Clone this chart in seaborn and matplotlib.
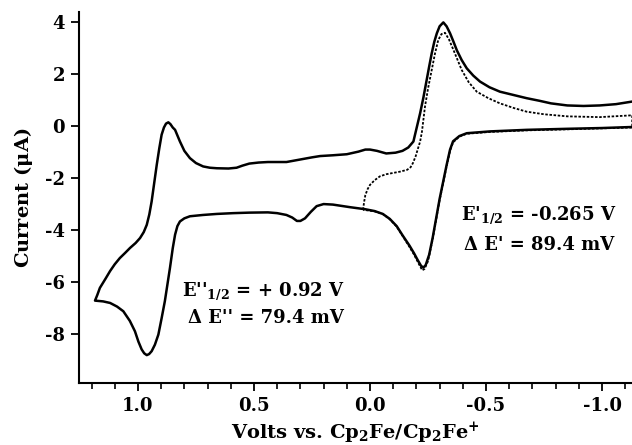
"""
Cyclic voltammogram: current vs. potential referenced to Cp2Fe/Cp2Fe+.
Solid trace = full scan, dotted trace = scan started near 0.0 V.
"""

import numpy as np
import pandas as pd
import matplotlib
matplotlib.use("Agg")
import matplotlib.pyplot as plt
import seaborn as sns
from matplotlib.ticker import MultipleLocator, FixedLocator

sns.set_style("ticks")
plt.rcParams["font.family"] = ["DejaVu Serif"]
plt.rcParams["font.weight"] = "bold"
plt.rcParams["mathtext.fontset"] = "dejavuserif"
plt.rcParams["axes.unicode_minus"] = False
plt.rcParams["text.color"] = "black"
plt.rcParams["axes.labelcolor"] = "black"
plt.rcParams["xtick.color"] = "black"
plt.rcParams["ytick.color"] = "black"

# solid trace, lower branch (from right edge back to the left vertex)
solid_low_v = [-1.13, -1.0, -0.85, -0.675, -0.517, -0.46, -0.417, -0.385, -0.358, -0.345,
               -0.33, -0.315, -0.30, -0.285, -0.27, -0.255, -0.24, -0.23, -0.22, -0.205,
               -0.19, -0.17, -0.14, -0.115, -0.085, -0.055, -0.02, 0.02, 0.086, 0.16,
               0.20, 0.23, 0.255, 0.28, 0.30, 0.315, 0.335, 0.36, 0.40, 0.44,
               0.52, 0.59, 0.66, 0.72, 0.776, 0.80, 0.819, 0.83, 0.84, 0.85,
               0.862, 0.873, 0.884, 0.898, 0.912, 0.927, 0.941, 0.952, 0.962, 0.973,
               0.984, 0.998, 1.013, 1.035, 1.063, 1.09, 1.12, 1.15, 1.185]
solid_low_i = [-0.03, -0.07, -0.1, -0.14, -0.2, -0.24, -0.27, -0.38, -0.58, -0.9,
               -1.5, -2.15, -2.8, -3.55, -4.3, -4.95, -5.35, -5.45, -5.38, -5.15,
               -4.9, -4.6, -4.2, -3.85, -3.57, -3.38, -3.27, -3.2, -3.12, -3.02,
               -3.0, -3.08, -3.3, -3.55, -3.65, -3.65, -3.52, -3.42, -3.35, -3.32,
               -3.33, -3.35, -3.38, -3.42, -3.47, -3.55, -3.67, -3.85, -4.18, -4.7,
               -5.46, -6.1, -6.74, -7.4, -8.03, -8.42, -8.67, -8.78, -8.82, -8.75,
               -8.6, -8.3, -7.9, -7.5, -7.13, -6.95, -6.81, -6.75, -6.72]

# solid trace, upper branch (from the left vertex out to the right edge)
solid_up_v = [1.185, 1.175, 1.164, 1.14, 1.12, 1.10, 1.078, 1.055, 1.034, 1.01,
              0.991, 0.975, 0.962, 0.951, 0.941, 0.93, 0.919, 0.908, 0.898, 0.888,
              0.879, 0.869, 0.86, 0.85, 0.84, 0.83, 0.819, 0.80, 0.776, 0.75,
              0.719, 0.69, 0.66, 0.61, 0.575, 0.55, 0.52, 0.48, 0.44, 0.36,
              0.30, 0.25, 0.215, 0.16, 0.10, 0.05, 0.02, 0.0, -0.03, -0.07,
              -0.11, -0.14, -0.165, -0.187, -0.20, -0.216, -0.23, -0.244, -0.255, -0.266,
              -0.277, -0.288, -0.30, -0.316, -0.33, -0.345, -0.36, -0.374, -0.395, -0.417,
              -0.445, -0.474, -0.515, -0.56, -0.62, -0.675, -0.73, -0.78, -0.85, -0.92,
              -0.99, -1.06, -1.13]
solid_up_i = [-6.72, -6.5, -6.23, -5.88, -5.58, -5.32, -5.08, -4.88, -4.69, -4.5,
              -4.31, -4.08, -3.8, -3.4, -2.9, -2.2, -1.49, -0.85, -0.33, -0.05,
              0.1, 0.15, 0.08, -0.05, -0.14, -0.35, -0.59, -0.95, -1.23, -1.42,
              -1.55, -1.6, -1.62, -1.63, -1.6, -1.52, -1.44, -1.4, -1.38, -1.38,
              -1.28, -1.2, -1.15, -1.12, -1.08, -0.98, -0.9, -0.9, -0.95, -1.05,
              -1.02, -0.95, -0.82, -0.59, -0.1, 0.5, 1.1, 1.78, 2.3, 2.81,
              3.25, 3.58, 3.85, 4.0, 3.85, 3.58, 3.25, 2.93, 2.55, 2.23,
              1.95, 1.72, 1.5, 1.33, 1.2, 1.08, 0.98, 0.88, 0.8, 0.78,
              0.8, 0.85, 0.95]

# dotted trace (leaves the lower branch near 0.03 V, runs out and back)
dotted_v = [0.03, 0.025, 0.02, 0.01, 0.0, -0.02, -0.043, -0.07, -0.10, -0.13,
            -0.16, -0.175, -0.185, -0.197, -0.207, -0.216, -0.224, -0.237, -0.25, -0.266,
            -0.28, -0.294, -0.308, -0.323, -0.34, -0.36, -0.395, -0.425, -0.46, -0.51,
            -0.56, -0.62, -0.675, -0.75, -0.85, -0.99, -1.13,
            -1.13, -0.85, -0.675, -0.517, -0.417, -0.385, -0.358, -0.345, -0.33, -0.30,
            -0.27, -0.25, -0.235, -0.225, -0.21, -0.19, -0.17, -0.14, -0.115, -0.085,
            -0.055, -0.02, 0.03]
dotted_i = [-3.22, -2.9, -2.65, -2.42, -2.26, -2.08, -1.93, -1.85, -1.8, -1.75,
            -1.68, -1.58, -1.42, -1.15, -0.85, -0.59, -0.2, 0.76, 1.45, 2.17,
            2.8, 3.32, 3.55, 3.6, 3.35, 2.93, 2.17, 1.7, 1.33, 1.08,
            0.88, 0.7, 0.56, 0.46, 0.38, 0.35, 0.42,
            -0.05, -0.12, -0.16, -0.22, -0.29, -0.4, -0.62, -0.95, -1.55, -2.85,
            -4.35, -5.2, -5.5, -5.55, -5.3, -4.95, -4.65, -4.22, -3.87, -3.58,
            -3.38, -3.28, -3.22]

x_ticks = [1.0, 0.5, 0.0, -0.5, -1.0]
x_tick_labels = ["1.0", "0.5", "0.0", "-0.5", "-1.0"]
y_ticks = [-8, -6, -4, -2, 0, 2, 4]


def main():
    solid = pd.DataFrame({"volts": solid_low_v + solid_up_v,
                          "current": solid_low_i + solid_up_i})
    dotted = pd.DataFrame({"volts": dotted_v, "current": dotted_i})

    fig = plt.figure(figsize=(6.32, 4.45), dpi=100)
    ax = fig.add_axes([0.125, 0.139, 0.875, 0.834])

    sns.lineplot(data=dotted, x="volts", y="current", sort=False, estimator=None,
                 color="black", lw=1.3, linestyle=(0, (1.4, 0.9)), ax=ax)
    sns.lineplot(data=solid, x="volts", y="current", sort=False, estimator=None,
                 color="black", lw=1.8, ax=ax)

    ax.set_xlim(1.254, -1.129)
    ax.set_ylim(-9.9, 4.4)

    ax.xaxis.set_major_locator(FixedLocator(x_ticks))
    ax.set_xticklabels(x_tick_labels)
    ax.xaxis.set_minor_locator(MultipleLocator(0.1))
    ax.set_yticks(y_ticks)
    ax.set_yticklabels([str(t) for t in y_ticks])

    ax.tick_params(axis="both", which="major", length=6, width=1.3,
                   labelsize=13, pad=4)
    ax.tick_params(axis="x", which="minor", length=4, width=1.2)
    for lab in ax.get_xticklabels() + ax.get_yticklabels():
        lab.set_fontweight("bold")

    sns.despine(ax=ax)
    for side in ["left", "bottom"]:
        ax.spines[side].set_linewidth(1.5)
        ax.spines[side].set_color("black")

    ax.set_ylabel(r"Current ($\mathbf{\mu}$A)", fontsize=14, fontweight="bold",
                  labelpad=7)
    ax.set_xlabel(r"Volts vs. Cp$_\mathbf{2}$Fe/Cp$_\mathbf{2}$Fe$^\mathbf{+}$",
                  fontsize=14, fontweight="bold", labelpad=4)

    ax.text(-0.728, -3.42, r"E'$_\mathbf{1/2}$ = -0.265 V", ha="center", va="center",
            fontsize=13, fontweight="bold")
    ax.text(-0.728, -4.58, "\u0394 E' = 89.4 mV", ha="center", va="center",
            fontsize=13, fontweight="bold")
    ax.text(0.461, -6.35, r"E''$_\mathbf{1/2}$ = + 0.92 V", ha="center", va="center",
            fontsize=13, fontweight="bold")
    ax.text(0.450, -7.38, "\u0394 E'' = 79.4 mV", ha="center", va="center",
            fontsize=13, fontweight="bold")

    fig.savefig("out.png", dpi=100)
    plt.close(fig)


if __name__ == "__main__":
    main()
